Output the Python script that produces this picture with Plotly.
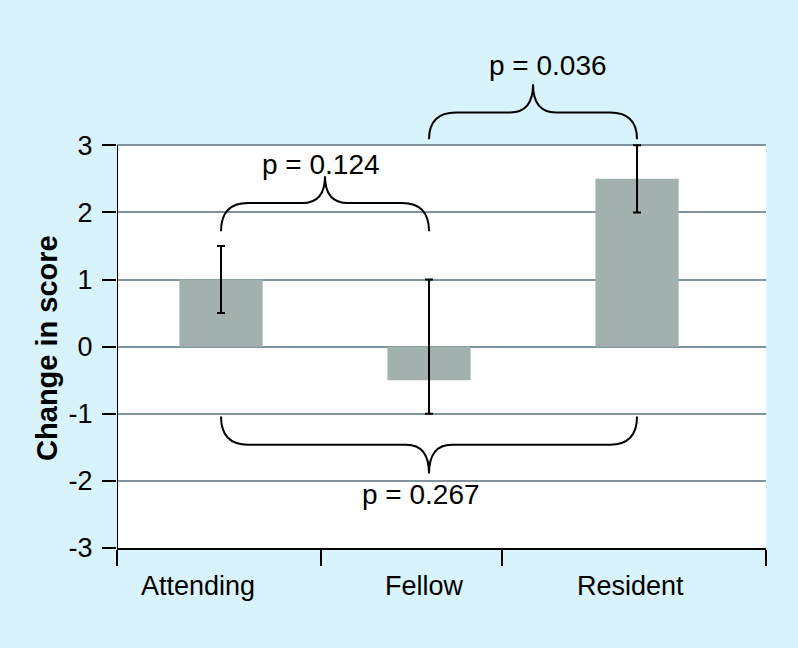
import plotly.graph_objects as go

# data
groups = ["Attending", "Fellow", "Resident"]
change = [1.0, -0.5, 2.5]
err_up = [0.5, 1.5, 0.5]
err_down = [0.5, 0.5, 0.5]
y_ticks = [-3, -2, -1, 0, 1, 2, 3]

# brace annotations: (left x, right x, label)
comparisons = [
    (0.5, 1.5, "p = 0.124"),
    (1.5, 2.5, "p = 0.036"),
    (0.5, 2.5, "p = 0.267"),
]

bar_x = [0.5, 1.5, 2.5]
label_x = [0.39, 1.48, 2.47]
sep_ticks = [0, 0.98, 1.85, 3.12]

bg = "#d8f3fb"
bar_col = "#a3b1ae"
grid_col = "#7f949c"
font = "Liberation Sans, Arial, sans-serif"


def brace(x0, x1, xm, y_end, y_h, y_tip, r_end=0.13, r_tip=0.11):
    p = f"M {x0},{y_end} Q {x0},{y_h} {x0 + r_end},{y_h} "
    p += f"L {xm - r_tip},{y_h} Q {xm},{y_h} {xm},{y_tip} "
    p += f"Q {xm},{y_h} {xm + r_tip},{y_h} "
    p += f"L {x1 - r_end},{y_h} Q {x1},{y_h} {x1},{y_end}"
    return p


fig = go.Figure()
fig.add_trace(go.Bar(
    x=bar_x, y=change, width=0.4,
    marker=dict(color=bar_col, line=dict(width=0)),
    error_y=dict(type="data", symmetric=False, array=err_up, arrayminus=err_down,
                 color="black", thickness=2, width=4),
    showlegend=False, hoverinfo="skip",
))

shapes = [
    # white plotting panel
    dict(type="rect", xref="paper", yref="y", x0=0, x1=1, y0=-3, y1=3,
         fillcolor="white", line=dict(width=0), layer="below"),
    # y axis line
    dict(type="line", xref="x", yref="y", x0=0, x1=0, y0=-3, y1=3,
         line=dict(color="black", width=2)),
]

# geometry of each brace (end y, bar y, tip y, text y, text x, tip x)
brace_geo = [
    (1.72, 2.14, 2.54, 2.72, 0.98, 1.0),
    (3.09, 3.49, 3.91, 4.19, 2.07, 2.0),
    (-1.04, -1.46, -1.89, -2.2, 1.46, 1.5),
]
annotations = []
for (xa, xb, txt), (ye, yh, yt, ty, tx, xm) in zip(comparisons, brace_geo):
    shapes.append(dict(type="path", xref="x", yref="y",
                       path=brace(xa, xb, xm, ye, yh, yt),
                       line=dict(color="black", width=2)))
    annotations.append(dict(x=tx, y=ty, xref="x", yref="y", text=txt,
                            showarrow=False, font=dict(size=28, color="black")))

for lx, g in zip(label_x, groups):
    annotations.append(dict(x=lx, y=-0.075, xref="x", yref="paper", text=g,
                            showarrow=False, yanchor="middle",
                            font=dict(size=27, color="black")))

# y title, centred lower than the panel middle as in the original
annotations.append(dict(x=-0.108, y=0.4, xref="paper", yref="paper",
                        xanchor="center", yanchor="middle",
                        text="<b>Change in score</b>", textangle=-90,
                        showarrow=False, font=dict(size=29, color="black")))

fig.update_layout(
    width=798, height=648,
    margin=dict(l=117, r=32, t=48, b=100),
    paper_bgcolor=bg, plot_bgcolor=bg,
    font=dict(family=font, size=27, color="black"),
    shapes=shapes, annotations=annotations,
    xaxis=dict(range=[0, 3.12], tickvals=sep_ticks, ticktext=["", "", "", ""],
               ticks="outside", ticklen=16, tickwidth=2, tickcolor="black",
               showline=True, linecolor="black", linewidth=2,
               showgrid=False, zeroline=False, fixedrange=True),
    yaxis=dict(range=[-3, 4.45], tickvals=y_ticks,
               ticktext=[str(v) for v in y_ticks],
               ticks="outside", ticklen=14, tickwidth=2, tickcolor="black",
               ticklabelstandoff=4,
               showgrid=True, gridcolor=grid_col, gridwidth=2,
               zeroline=False, showline=False, fixedrange=True),
)

fig.write_html("out.html", config={"displayModeBar": False},
               post_script="document.body.style.margin='0px';")
